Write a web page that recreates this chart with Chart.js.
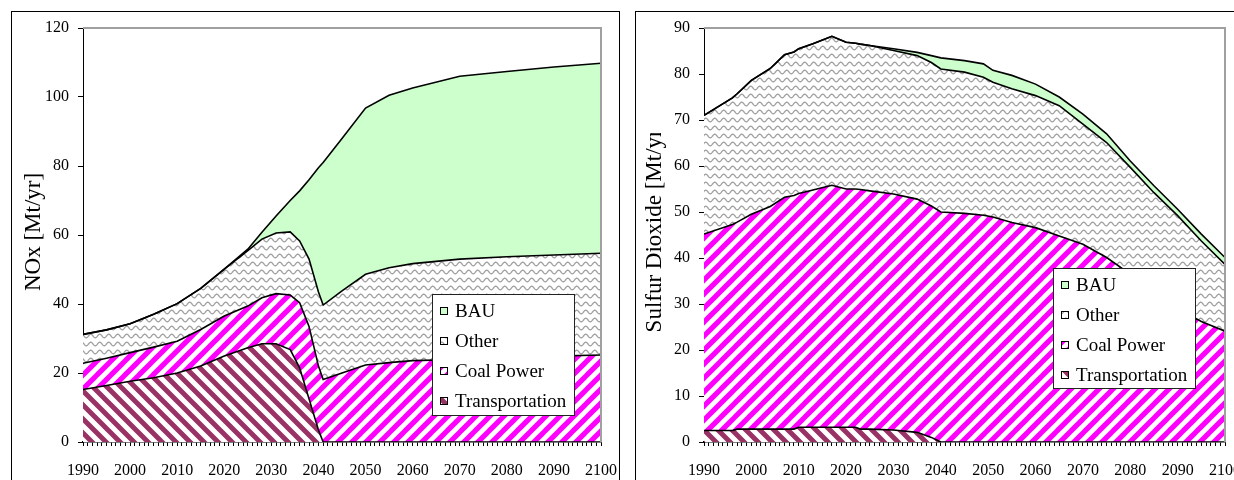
<!DOCTYPE html>
<html>
<head>
<meta charset="utf-8">
<script src="https://cdn.jsdelivr.net/npm/chart.js@4.4.1/dist/chart.umd.min.js"></script>
<style>
  html, body { margin: 0; padding: 0; background: #fff; overflow: hidden; width: 1234px; height: 480px; }
  .panel { position: absolute; top: 11px; height: 520px; border: 1px solid #000; background: #fff; overflow: hidden; }
  #p1 { left: 11px; width: 607px; }
  #p2 { left: 635px; width: 700px; }
  canvas { display: block; }
</style>
</head>
<body>
<div class="panel" id="p1"><canvas id="nox" width="640" height="520"></canvas></div>
<div class="panel" id="p2"><canvas id="so2" width="700" height="520"></canvas></div>
<script>
// ---- NOx emissions by source [Mt/yr] (stacked components) ----
const noxYears          = [1990, 1995, 2000, 2005, 2010, 2015, 2020, 2025, 2028, 2031, 2034, 2036, 2038, 2040, 2041, 2045, 2050, 2055, 2060, 2070, 2080, 2090, 2100];
const noxTransportation = [15.2, 16.4, 17.6, 18.6, 20.0, 22.0, 24.9, 27.3, 28.5, 28.5, 26.8, 21.5, 12.5,  3.5,  0.0,  0.0,  0.0,  0.0,  0.0,  0.0,  0.0,  0.0,  0.0];
const noxCoalPower      = [ 7.6,  7.9,  8.3,  8.9,  9.2, 10.6, 11.6, 12.1, 13.3, 14.5, 15.8, 18.9, 21.0, 18.5, 18.1, 20.0, 22.3, 23.0, 23.6, 23.9, 24.4, 24.9, 25.2];
const noxOther          = [ 8.4,  8.2,  8.4,  9.5, 10.9, 11.9, 13.6, 16.1, 17.0, 17.6, 18.3, 17.9, 19.5, 21.5, 21.6, 23.8, 26.3, 27.5, 28.1, 29.1, 29.3, 29.3, 29.5];
const noxBAU            = [ 0.0,  0.0,  0.0,  0.0,  0.0,  0.0,  0.0,  0.4,  2.0,  4.9,  9.1, 14.5, 23.0, 36.0, 41.3, 44.2, 48.2, 50.0, 50.9, 53.0, 53.7, 54.5, 55.1];

// ---- Sulfur dioxide emissions by source [Mt/yr] (stacked components) ----
const so2Years          = [1990, 1996, 1997, 2000, 2004, 2007, 2009, 2010, 2013, 2017, 2020, 2022, 2023, 2025, 2030, 2035, 2038, 2040, 2045, 2049, 2051, 2055, 2060, 2065, 2070, 2075, 2080, 2085, 2090, 2095, 2100];
const so2Transportation = [ 2.5,  2.5,  2.8,  2.8,  2.8,  2.8,  2.8,  3.2,  3.2,  3.2,  3.2,  3.2,  2.8,  2.8,  2.6,  2.1,  1.0,  0.0,  0.0,  0.0,  0.0,  0.0,  0.0,  0.0,  0.0,  0.0,  0.0,  0.0,  0.0,  0.0,  0.0];
const so2CoalPower      = [42.7, 44.8, 45.0, 46.7, 48.4, 50.4, 50.8, 50.8, 51.6, 52.6, 51.8, 51.8, 52.1, 51.8, 51.3, 50.7, 50.3, 50.0, 49.7, 49.3, 48.9, 47.7, 46.6, 44.8, 43.0, 40.1, 36.5, 33.0, 29.0, 26.2, 24.1];
const so2Other          = [25.8, 27.5, 27.9, 29.1, 30.0, 31.0, 31.2, 31.5, 31.8, 32.4, 31.9, 31.7, 31.6, 31.6, 31.2, 31.2, 31.2, 31.1, 30.7, 30.0, 29.3, 29.1, 28.7, 28.3, 26.1, 25.0, 23.2, 21.2, 20.2, 17.5, 14.5];
const so2BAU            = [ 0.0,  0.0,  0.0,  0.0,  0.0,  0.0,  0.0,  0.0,  0.0,  0.0,  0.0,  0.0,  0.0,  0.0,  0.4,  0.7,  1.5,  2.4,  2.5,  2.9,  2.6,  2.9,  2.5,  1.9,  2.2,  1.9,  1.4,  1.5,  1.4,  1.5,  1.5];

const seriesNames = ['Transportation', 'Coal Power', 'Other', 'BAU'];
const yearMin = 1990, yearMax = 2100;

const SERIF = '"Liberation Serif", "Times New Roman", serif';

// ---- fill patterns ----
function makeTile(w, h) {
  const c = document.createElement('canvas');
  c.width = w; c.height = h;
  const g = c.getContext('2d');
  g.fillStyle = '#fff';
  g.fillRect(0, 0, w, h);
  return [c, g];
}
function stripes(ctx, color, rising, period, width) {
  const [c, g] = makeTile(period, period);
  g.strokeStyle = color;
  g.lineWidth = width;
  g.lineCap = 'square';
  g.beginPath();
  for (let k = -1; k <= 1; k++) {
    if (rising) { g.moveTo(k * period, period); g.lineTo(k * period + period, 0); }
    else { g.moveTo(k * period, 0); g.lineTo(k * period + period, period); }
  }
  g.stroke();
  return ctx.createPattern(c, 'repeat');
}
function waves(ctx, color) {
  const w = 9, h = 8;
  const [c, g] = makeTile(w, h);
  g.strokeStyle = color;
  g.lineWidth = 1.3;
  g.beginPath();
  for (let x = -1; x <= w + 1; x += 0.5) {
    const y = 4 + 1.8 * Math.sin((x / w) * Math.PI * 2);
    if (x === -1) g.moveTo(x, y); else g.lineTo(x, y);
  }
  g.stroke();
  return ctx.createPattern(c, 'repeat');
}
function fills(ctx) {
  return [
    stripes(ctx, '#993366', false, 14, 5),
    stripes(ctx, '#ff00ff', true, 14, 5.2),
    waves(ctx, '#a0a0a0'),
    '#ccffcc'
  ];
}

// ---- frame, rotated axis title and boxed legend ----
const panelDecor = {
  id: 'panelDecor',
  afterDatasetsDraw(chart) {
    const { ctx, chartArea: a } = chart;
    ctx.save();
    ctx.strokeStyle = '#a0a0a0';
    ctx.lineWidth = 2;
    ctx.beginPath();
    ctx.moveTo(a.left, a.top);
    ctx.lineTo(a.right, a.top);
    ctx.lineTo(a.right, a.bottom);
    ctx.stroke();
    ctx.restore();
  },
  afterDraw(chart, args, o) {
    const { ctx } = chart;
    // axis title
    ctx.save();
    if (o.titleClipTop != null) {
      ctx.beginPath();
      ctx.rect(0, o.titleClipTop, 60, 500);
      ctx.clip();
    }
    ctx.translate(o.titleX, o.titleY);
    ctx.rotate(-Math.PI / 2);
    ctx.font = '23px ' + SERIF;
    ctx.fillStyle = '#000';
    ctx.textAlign = 'center';
    ctx.textBaseline = 'middle';
    ctx.fillText(o.title, 0, 0);
    ctx.restore();

    // legend
    const L = o.legend;
    ctx.save();
    ctx.fillStyle = '#fff';
    ctx.fillRect(L.x, L.y, L.w, L.h);
    ctx.strokeStyle = '#222';
    ctx.lineWidth = 1;
    ctx.strokeRect(L.x + 0.5, L.y + 0.5, L.w, L.h);
    const ds = chart.data.datasets.slice().reverse();
    ctx.font = '19px ' + SERIF;
    ctx.textBaseline = 'middle';
    ds.forEach((d, i) => {
      const cy = L.y + 17 + i * 30;
      ctx.fillStyle = d.backgroundColor;
      ctx.fillRect(L.x + 8, cy - 4, 8, 8);
      ctx.strokeStyle = '#000';
      ctx.strokeRect(L.x + 8.5, cy - 3.5, 7, 7);
      ctx.fillStyle = '#000';
      ctx.fillText(d.label, L.x + 23, cy + 1);
    });
    ctx.restore();
  }
};

function buildChart(id, years, values, yMax, yStep, yAxisWidth, decor) {
  const canvas = document.getElementById(id);
  const ctx = canvas.getContext('2d');
  const pats = fills(ctx);
  const areaRight = 589, areaTop = 16, areaBottom = 430;
  const datasets = values.map((vals, i) => ({
    label: seriesNames[i],
    data: years.map((yr, k) => ({ x: yr, y: vals[k] })),
    backgroundColor: pats[i],
    borderColor: '#000',
    borderWidth: 1.6,
    pointRadius: 0,
    pointHoverRadius: 0,
    tension: 0,
    fill: i === 0 ? 'origin' : '-1'
  }));
  return new Chart(ctx, {
    type: 'line',
    data: { datasets },
    options: {
      responsive: false,
      animation: false,
      events: [],
      layout: { padding: { left: 0, top: areaTop, right: canvas.width - areaRight, bottom: 0 } },
      plugins: {
        legend: { display: false },
        tooltip: { enabled: false },
        filler: { drawTime: 'beforeDatasetsDraw' },
        panelDecor: decor
      },
      scales: {
        x: {
          type: 'linear',
          min: yearMin,
          max: yearMax,
          z: 1,
          border: { display: true, color: '#000', width: 1.5 },
          grid: { drawOnChartArea: false, drawTicks: true, tickLength: 4, color: '#000', lineWidth: 1 },
          ticks: {
            stepSize: 1,
            autoSkip: false,
            maxRotation: 0,
            minRotation: 0,
            padding: 15,
            color: '#000',
            font: { family: SERIF, size: 16 },
            callback: v => (Math.round(v) % 10 === 0 ? String(Math.round(v)) : '')
          },
          afterFit: s => { s.height = canvas.height - areaBottom; }
        },
        y: {
          stacked: true,
          min: 0,
          max: yMax,
          z: 1,
          border: { display: true, color: '#000', width: 1 },
          grid: { drawOnChartArea: false, drawTicks: true, tickLength: 5, color: '#000' },
          ticks: {
            stepSize: yStep,
            padding: 9,
            color: '#000',
            font: { family: SERIF, size: 16 }
          },
          afterFit: s => { s.width = yAxisWidth; s.paddingTop = 0; s.paddingBottom = 0; }
        }
      }
    },
    plugins: [panelDecor]
  });
}

buildChart('nox', noxYears, [noxTransportation, noxCoalPower, noxOther, noxBAU], 120, 20, 71, {
  title: 'NOx [Mt/yr]', titleX: 22, titleY: 220,
  legend: { x: 420, y: 282, w: 142, h: 121 }
});
buildChart('so2', so2Years, [so2Transportation, so2CoalPower, so2Other, so2BAU], 90, 10, 68, {
  title: 'Sulfur Dioxide [Mt/yr]', titleX: 19, titleY: 215, titleClipTop: 121,
  legend: { x: 417, y: 256, w: 142, h: 120 }
});
</script>
</body>
</html>
